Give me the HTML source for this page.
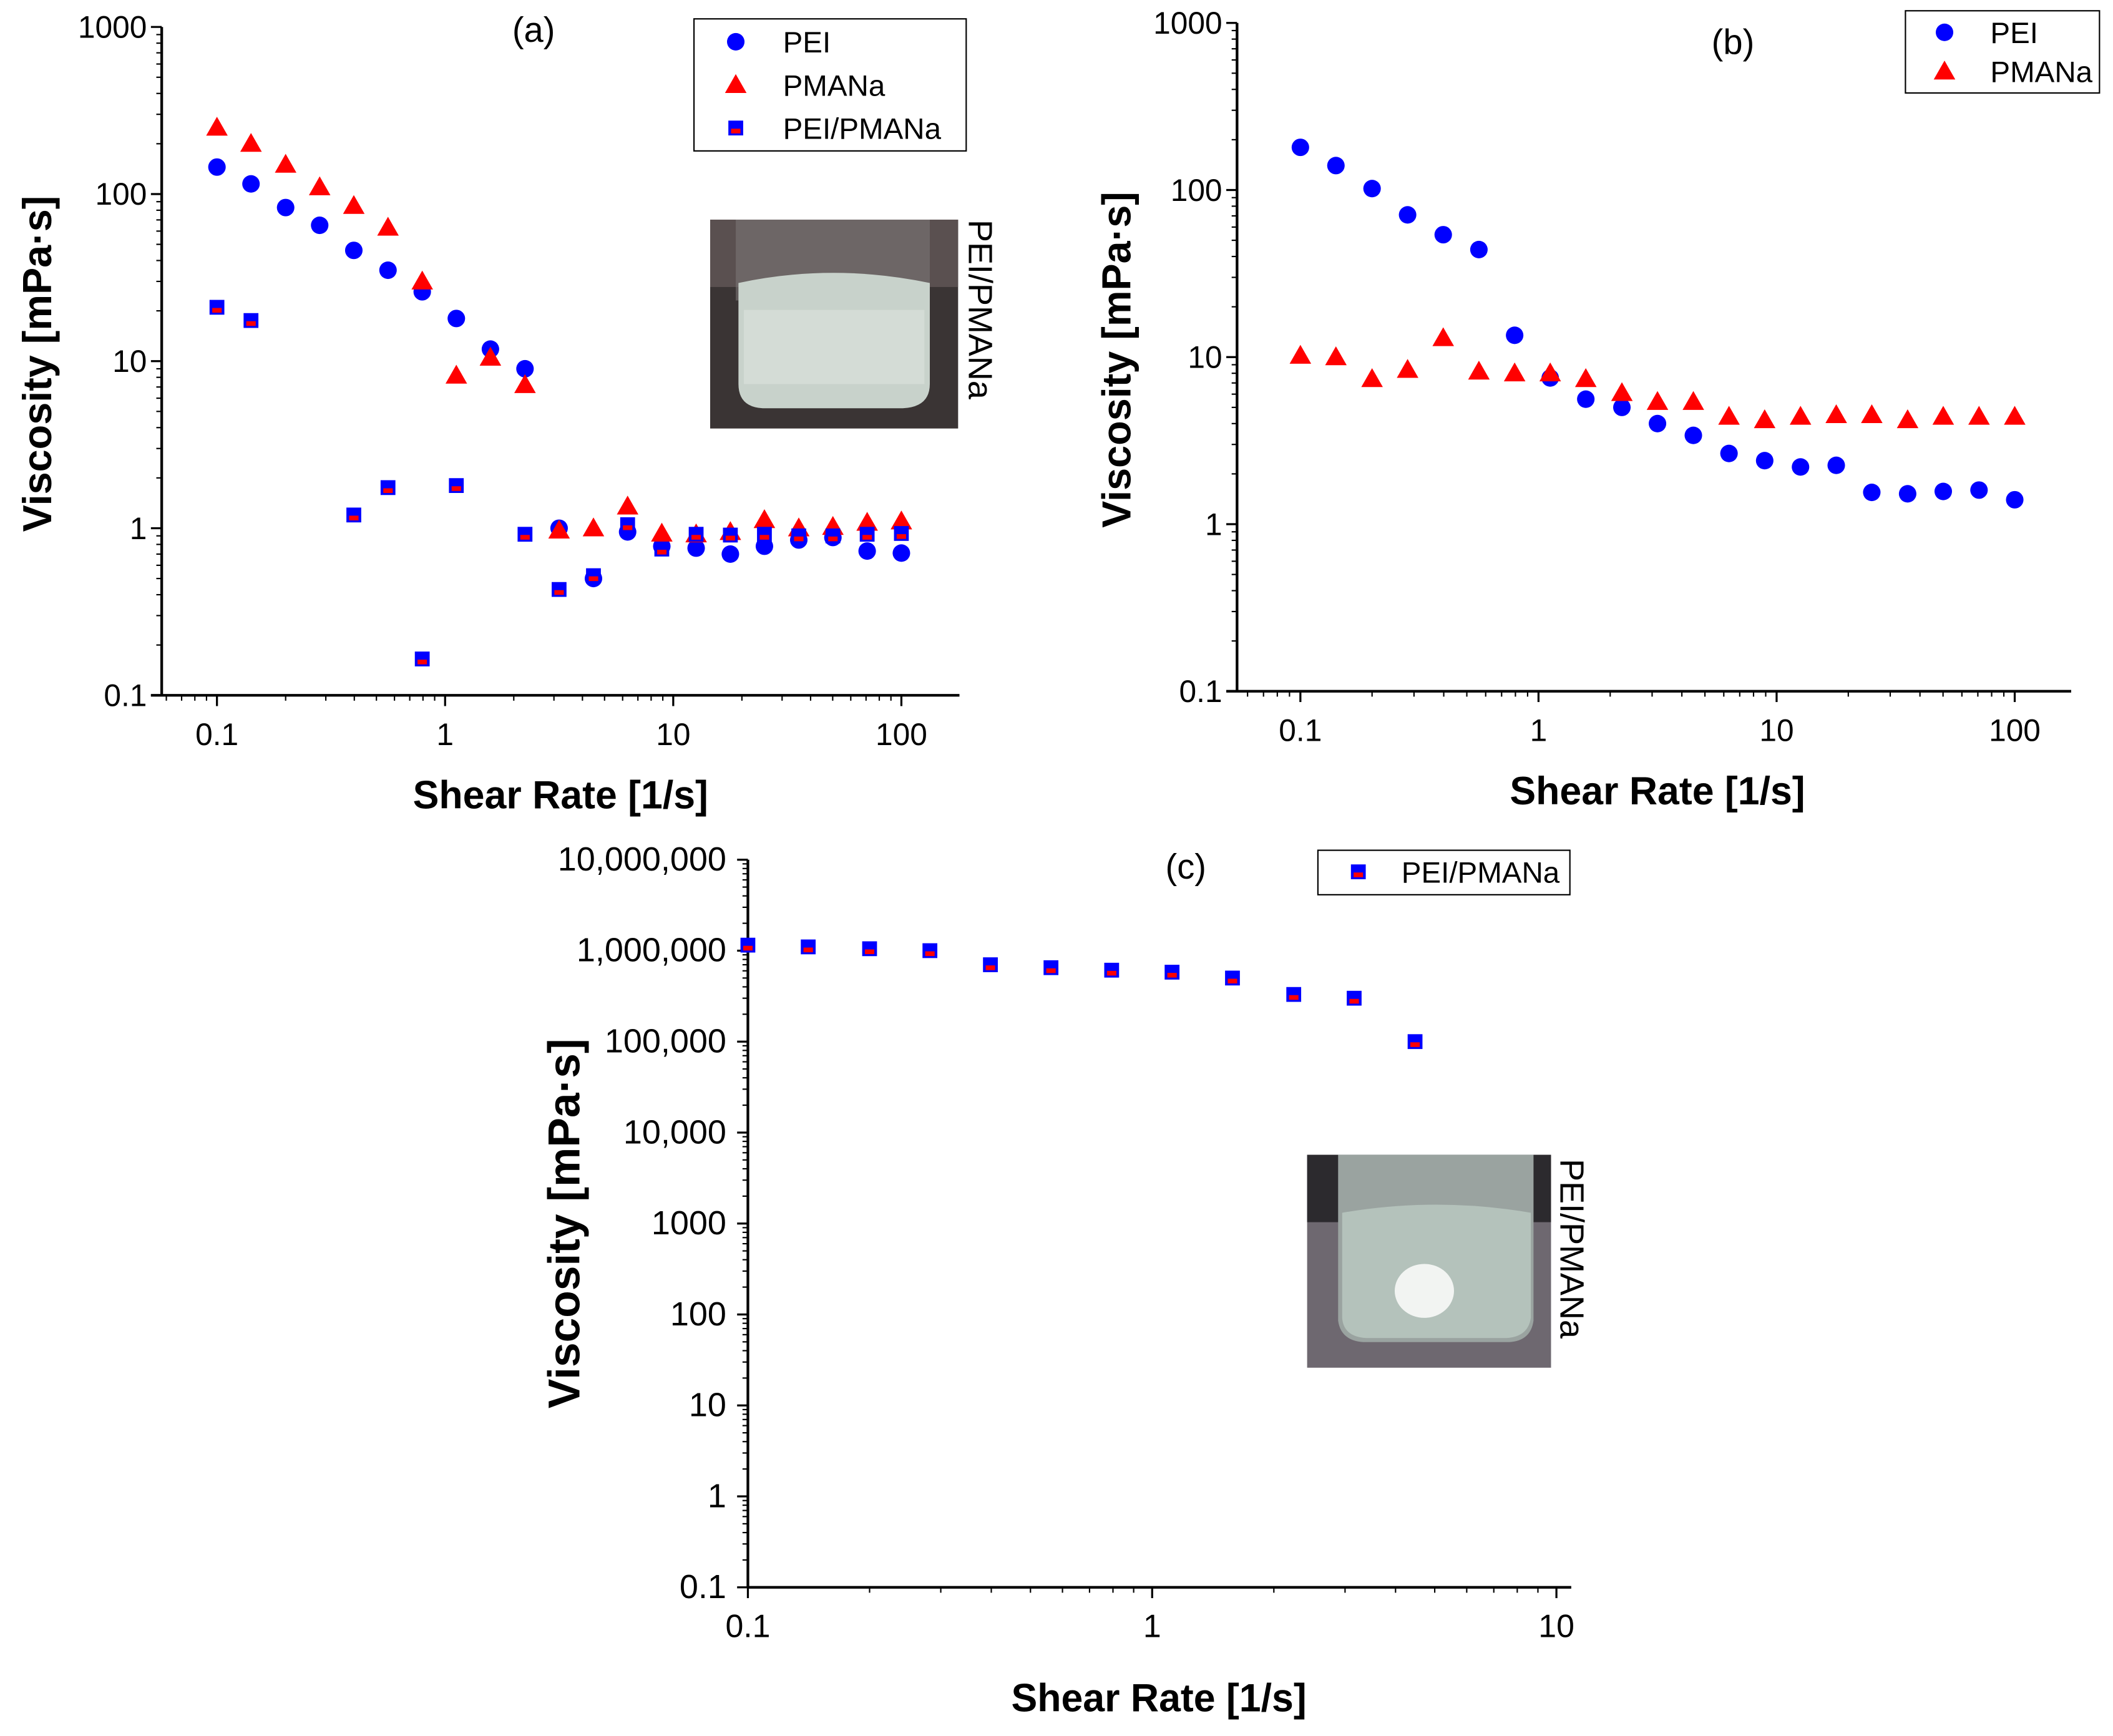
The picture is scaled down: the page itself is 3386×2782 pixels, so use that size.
<!DOCTYPE html>
<html><head><meta charset="utf-8">
<style>
html,body{margin:0;padding:0;background:#fff;}
svg{display:block;}
text{font-family:"Liberation Sans",Arial,sans-serif;}
</style></head>
<body>
<svg id="fig" width="3386" height="2782" viewBox="0 0 3386 2782" xmlns="http://www.w3.org/2000/svg">
<g id="root" transform="scale(2.1594)">
  <g>
    <rect x="527" y="163" width="184" height="155" fill="#3a3434"/>
    <rect x="527" y="163" width="184" height="50" fill="#5a5050"/>
    <rect x="546" y="163" width="144" height="60" fill="#7a7474" opacity="0.6"/>
    <path d="M548 210 Q618 195 690 210 L690 285 Q690 302 670 303 L566 303 Q548 302 548 285 Z" fill="#c8d2cb"/>
    <rect x="552" y="230" width="134" height="55" fill="#d4dcd6"/>
  </g>
  <text x="0" y="0" font-size="25" transform="translate(719,163) rotate(90)">PEI/PMANa</text>
  <g>
    <rect x="970" y="857" width="181" height="158" fill="#6e6870"/>
    <rect x="970" y="857" width="181" height="50" fill="#2c2a2e"/>
    <path d="M993 857 L1138 857 L1138 980 Q1136 995 1120 996 L1012 996 Q995 995 993 980 Z" fill="#9aa3a0"/>
    <path d="M996 900 Q1066 888 1136 900 L1136 978 Q1134 992 1118 993 L1014 993 Q997 992 996 978 Z" fill="#b4c2bb"/>
    <ellipse cx="1057" cy="958" rx="22" ry="20" fill="#f2f4f2"/>
  </g>
  <text x="0" y="0" font-size="25" transform="translate(1158,860) rotate(90)">PEI/PMANa</text>
</g>
</svg>
<script>
// ---- data ----
const shearRates = [0.1,0.141,0.2,0.282,0.398,0.562,0.794,1.12,1.58,2.24,3.16,4.47,6.31,8.91,12.6,17.8,25.1,35.5,50.1,70.8,100];
const aPEI = [145,115,83,65,46,35,26,18,11.8,9.0,1.0,0.5,0.95,0.78,0.76,0.7,0.78,0.85,0.88,0.73,0.71];
const aPMANa = [250,200,150,110,85,63,30,8.2,10.5,7.2,0.97,1.0,1.35,0.93,0.92,0.95,1.12,1.0,1.02,1.08,1.1];
const aMix = [21,17.5,null,null,1.2,1.75,0.165,1.8,null,0.92,0.43,0.52,1.05,0.75,0.92,0.91,0.92,0.9,0.9,0.92,0.93];
const bPEI = [180,140,102,71,54,44,13.5,7.5,5.6,5.0,4.0,3.4,2.65,2.4,2.2,2.25,1.55,1.52,1.57,1.6,1.4];
const bPMANa = [10.2,10,7.4,8.4,13,8.2,8.0,8.0,7.4,6.1,5.4,5.4,4.4,4.2,4.4,4.5,4.5,4.2,4.4,4.4,4.4];
const cRates = [0.1,0.141,0.2,0.282,0.398,0.562,0.794,1.12,1.58,2.24,3.16,4.47];
const cMix = [1.15e6,1.1e6,1.05e6,1.0e6,7e5,6.5e5,6.1e5,5.8e5,5.0e5,3.3e5,3.0e5,1.0e5];
const abYTicks = ["0.1","1","10","100","1000"];
const abXTicks = ["0.1","1","10","100"];
const cYTicks = ["0.1","1","10","100","1000","10,000","100,000","1,000,000","10,000,000"];
const cXTicks = ["0.1","1","10"];

const NS="http://www.w3.org/2000/svg";
const root=document.getElementById('root');
function mk(tag,attrs,parent){const e=document.createElementNS(NS,tag);for(const k in attrs)e.setAttribute(k,attrs[k]);(parent||root).appendChild(e);return e;}

function panel(cfg){
  const g=mk('g',{});
  
  
  const sx=v=>cfg.x0+(Math.log10(v)-cfg.xmin)*cfg.xdec;
  const sy=v=>cfg.yb-(Math.log10(v)-cfg.ymin)*cfg.ydec;
  const ya=mk('line',{x1:cfg.ax,y1:cfg.yb,x2:cfg.ax,y2:cfg.yt,stroke:'#000','stroke-width':2},g);
  
  
  const xa=mk('line',{x1:cfg.xl,y1:cfg.yb,x2:cfg.xr,y2:cfg.yb,stroke:'#000','stroke-width':2},g);
  
  
  const nyd=cfg.yTicks.length;
  for(let i=0;i<nyd;i++){
    const v=Math.pow(10,cfg.ymin+i);
    const y=sy(v);
    mk('line',{x1:cfg.ax-8,y1:y,x2:cfg.ax,y2:y,stroke:'#000','stroke-width':1.5},g);
    const t=mk('text',{x:cfg.ax-cfg.ygap,y:y+8,'font-size':cfg.yfs,'text-anchor':'end'},g);
    t.textContent=cfg.yTicks[i];
    
    
    if(i<nyd-1)for(let m=2;m<10;m++){const ym=sy(v*m);mk('line',{x1:cfg.ax-4,y1:ym,x2:cfg.ax,y2:ym,stroke:'#000','stroke-width':1},g);}
  }
  for(let d=Math.floor(cfg.xminAxis);d<=Math.ceil(Math.log10(cfg.xmaxAxis));d++){
    for(let m=1;m<10;m++){
      const v=Math.pow(10,d)*m;
      if(v<cfg.xminVal||v>cfg.xmaxAxis)continue;
      const x=sx(v);
      mk('line',{x1:x,y1:cfg.yb,x2:x,y2:cfg.yb+(m===1?8:4),stroke:'#000','stroke-width':m===1?1.5:1},g);
    }
  }
  cfg.xTicks.forEach((lab,i)=>{
    const t=mk('text',{x:sx(Math.pow(10,cfg.xmin+i)),y:cfg.yb+37,'font-size':cfg.xfs,'text-anchor':'middle'},g);
    t.textContent=lab;
    
    
  });
  const yt=mk('text',{x:0,y:0,'font-size':cfg.tfs,'font-weight':'bold','text-anchor':'middle',transform:`translate(${cfg.ylx},${cfg.yly}) rotate(-90)`},g);
  yt.textContent='Viscosity [mPa·s]';
  
  
  const xt=mk('text',{x:cfg.xlx,y:cfg.xly,'font-size':29,'font-weight':'bold','text-anchor':'middle'},g);
  xt.textContent='Shear Rate [1/s]';
  
  
  const pt=mk('text',{x:cfg.plx,y:cfg.ply,'font-size':26,'text-anchor':'middle'},g);
  pt.textContent=cfg.label;
  
  
  cfg.series.forEach(s=>{
    s.vals.forEach((v,i)=>{
      if(v==null)return;
      drawMarker(g,s.type,sx(s.xs[i]),sy(v),s.name);
    });
  });
  const L=cfg.legend;
  const lb=mk('rect',{x:L.x,y:L.y,width:L.w,height:L.h,fill:'none',stroke:'#000','stroke-width':1},g);
  
  
  cfg.series.forEach((s,i)=>{
    const cy=L.y+L.first+i*L.step;
    drawMarker(g,s.type,L.x+L.mx,cy,'legend-marker');
    const t=mk('text',{x:L.x+L.tx,y:cy+8,'font-size':22},g);
    t.textContent=s.label;
    
    
  });
}
function drawMarker(g,type,x,y,name){
  let e;
  if(type==='circle'){e=mk('circle',{cx:x,cy:y,r:6.5,fill:'#0000ff'},g);}
  else if(type==='tri'){e=mk('polygon',{points:`${x},${y-8} ${x+8},${y+6} ${x-8},${y+6}`,fill:'#ff0000'},g);}
  else{
    e=mk('g',{},g);
    mk('rect',{x:x-5.5,y:y-5.5,width:11,height:11,fill:'#0000ff'},e);
    mk('rect',{x:x-3.5,y:y+0.5,width:7,height:3.5,fill:'#ff0000'},e);
  }
  
  
}

panel({name:'panel-a',label:'(a)',plx:396,ply:31,ax:120,yt:20,yb:516,xl:112,xr:712,
  x0:161,xmin:-1,xdec:169.3,ymin:-1,ydec:124,xminAxis:-2,xminVal:0.06,xmaxAxis:180,
  yTicks:abYTicks,xTicks:abXTicks,yfs:23,xfs:23,ygap:11,tfs:30,ylx:38,yly:270,xlx:416,xly:600,
  series:[{type:'circle',xs:shearRates,vals:aPEI,name:'pei',label:'PEI'},
          {type:'tri',xs:shearRates,vals:aPMANa,name:'pmana',label:'PMANa'},
          {type:'sq',xs:shearRates,vals:aMix,name:'pei-pmana',label:'PEI/PMANa'}],
  legend:{x:515,y:14,w:202,h:98,first:17,step:32,mx:31,tx:66}});
panel({name:'panel-b',label:'(b)',plx:1286,ply:40,ax:918,yt:17,yb:513,xl:910,xr:1537,
  x0:965,xmin:-1,xdec:176.7,ymin:-1,ydec:124,xminAxis:-2,xminVal:0.06,xmaxAxis:180,
  yTicks:abYTicks,xTicks:abXTicks,yfs:23,xfs:23,ygap:11,tfs:30,ylx:839,yly:267,xlx:1230,xly:597,
  series:[{type:'circle',xs:shearRates,vals:bPEI,name:'pei',label:'PEI'},
          {type:'tri',xs:shearRates,vals:bPMANa,name:'pmana',label:'PMANa'}],
  legend:{x:1414,y:8,w:144,h:61,first:16,step:29,mx:29,tx:63}});
panel({name:'panel-c',label:'(c)',plx:880,ply:652,ax:555,yt:638,yb:1178,xl:555,xr:1166,
  x0:555,xmin:-1,xdec:300,ymin:-1,ydec:67.5,xminAxis:-1,xminVal:0.1,xmaxAxis:11,
  yTicks:cYTicks,xTicks:cXTicks,yfs:25,xfs:24,ygap:16,tfs:33,ylx:430,yly:908,xlx:860,xly:1270,
  series:[{type:'sq',xs:cRates,vals:cMix,name:'pei-pmana',label:'PEI/PMANa'}],
  legend:{x:978,y:631,w:187,h:33,first:16,step:30,mx:30,tx:62}});
</script>
</body></html>
